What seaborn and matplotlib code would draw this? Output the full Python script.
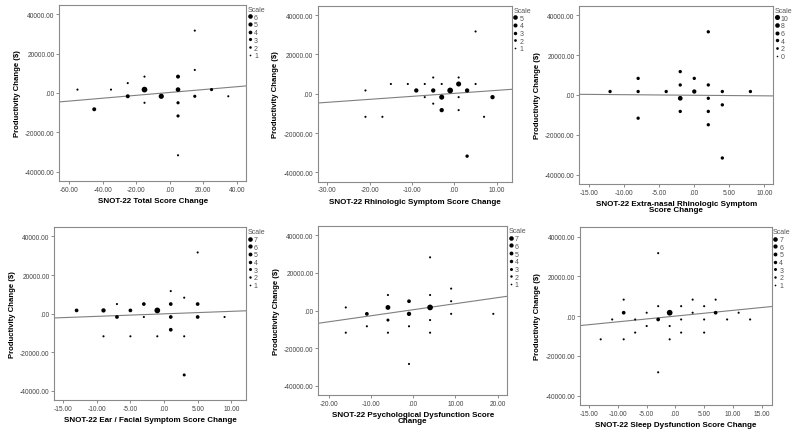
import numpy as np
import pandas as pd
import matplotlib
matplotlib.use("Agg")
import matplotlib.pyplot as plt
from matplotlib.lines import Line2D
from matplotlib.ticker import FuncFormatter
import seaborn as sns

# -----------------------------------
# Data
# -----------------------------------
p1_x = [-55, -45, -35, -25, -25, -15, -15, -15, -5, 5, 5, 5, 5, 5, 15, 15, 15, 25, 35]
p1_y = [1700, -8300, 1700, 5000, -1700, 8300, 1700, -5000, -1700, 8300, 1700, -5000,
        -11700, -31700, 31700, 11700, -1700, 1700, -1700]
p1_n = [1, 3, 1, 1, 3, 1, 6, 1, 5, 3, 4, 2, 2, 1, 1, 1, 2, 2, 1]

p2_x = [-21, -21, -17, -15, -11, -9, -7, -7, -5, -5, -5, -3, -3, -3, -1, 1, 1, 1, 1,
        3, 3, 5, 5, 7, 9]
p2_y = [1700, -11700, -11700, 5000, 5000, 1700, 5000, -1700, 8300, 1700, -5000, 5000,
        -1700, -8300, 1700, 8300, 5000, -1700, -8300, 1700, -31700, 31700, 5000,
        -11700, -1700]
p2_n = [1, 1, 1, 1, 1, 3, 1, 1, 1, 3, 1, 1, 4, 3, 5, 1, 4, 1, 1, 3, 2, 1, 1, 1, 3]

p3_x = [-12, -8, -8, -8, -4, -2, -2, -2, -2, 0, 0, 2, 2, 2, 2, 2, 4, 4, 4, 8]
p3_y = [1700, 8300, 1700, -11700, 1700, 11700, 5000, -1700, -8300, 8300, 1700, 31700,
        5000, -1700, -8300, -15000, 1700, -5000, -31700, 1700]
p3_n = [2, 2, 2, 2, 2, 2, 2, 5, 2, 2, 4, 2, 2, 2, 2, 2, 2, 2, 2, 2]

p4_x = [-13, -9, -9, -7, -7, -5, -5, -3, -3, -1, -1, 1, 1, 1, 1, 3, 3, 3, 5, 5, 5, 9]
p4_y = [1700, 1700, -11700, 5000, -1700, 1700, -11700, 5000, -1700, 1700, -11700,
        11700, 5000, -1700, -8300, 8300, -11700, -31700, 31700, 5000, -1700, -1700]
p4_n = [3, 4, 1, 1, 3, 3, 1, 3, 1, 7, 1, 1, 3, 3, 3, 1, 1, 2, 1, 3, 3, 1]

p5_x = [-16, -16, -11, -11, -6, -6, -6, -6, -1, -1, -1, -1, 4, 4, 4, 4, 4, 9, 9, 9, 19]
p5_y = [1700, -11700, -1700, -8300, 8300, 1700, -5000, -11700, 5000, -1700, -8300,
        -28300, 28300, 8300, 1700, -5000, -11700, 11700, 5000, -1700, -1700]
p5_n = [1, 1, 3, 1, 1, 5, 2, 1, 3, 4, 1, 1, 1, 1, 7, 1, 1, 1, 1, 1, 1]

p6_x = [-13, -11, -9, -9, -9, -7, -7, -5, -5, -3, -3, -3, -3, -1, -1, -1, 1, 1, 1,
        3, 3, 5, 5, 5, 7, 7, 9, 11, 13]
p6_y = [-11700, -1700, 8300, 1700, -11700, -1700, -8300, 1700, -5000, 31700, 5000,
        -1700, -28300, 1700, -5000, -11700, 5000, -1700, -8300, 8300, 1700, 5000,
        -1700, -8300, 8300, 1700, -1700, 1700, -1700]
p6_n = [1, 1, 1, 3, 1, 1, 1, 1, 1, 1, 1, 3, 1, 7, 1, 1, 1, 1, 1, 1, 1, 1, 1, 1, 1,
        3, 1, 1, 1]

# fit lines (intercept, slope)
fit_lines = [(240, 73), (230, 152), (-180, -29), (-80, 130), (500, 320), (0, 288)]

x_titles = [
    "SNOT-22 Total Score Change",
    "SNOT-22 Rhinologic Symptom Score Change",
    "SNOT-22 Extra-nasal Rhinologic Symptom\nScore Change",
    "SNOT-22 Ear / Facial Symptom Score Change",
    "SNOT-22 Psychological Dysfunction Score\nChange",
    "SNOT-22 Sleep Dysfunction Score Change",
]
legend_levels = [
    [6, 5, 4, 3, 2, 1],
    [5, 4, 3, 2, 1],
    [10, 8, 6, 4, 2, 0],
    [7, 6, 5, 4, 3, 2, 1],
    [7, 6, 5, 4, 3, 2, 1],
    [7, 6, 5, 4, 3, 2, 1],
]
x_ticks = [
    np.arange(-60, 41, 20),
    np.arange(-30, 11, 10),
    np.arange(-15, 11, 5),
    np.arange(-15, 11, 5),
    np.arange(-20, 21, 10),
    np.arange(-15, 16, 5),
]
x_lims = [(-65.9, 45.8), (-32.3, 13.6), (-16.4, 11.25),
          (-16.3, 12.2), (-22.5, 22.3), (-16.6, 16.75)]

panels = [(p1_x, p1_y, p1_n), (p2_x, p2_y, p2_n), (p3_x, p3_y, p3_n),
          (p4_x, p4_y, p4_n), (p5_x, p5_y, p5_n), (p6_x, p6_y, p6_n)]

# axes boxes in figure fractions [left, bottom, width, height]
boxes = [
    [0.074, 0.582, 0.234, 0.405],
    [0.397, 0.580, 0.243, 0.405],
    [0.724, 0.575, 0.2425, 0.410],
    [0.068, 0.078, 0.2396, 0.398],
    [0.398, 0.090, 0.236, 0.388],
    [0.725, 0.067, 0.2396, 0.409],
]

sns.set_style("white")
plt.rcParams["font.family"] = ["Liberation Sans", "DejaVu Sans"]

SPINE = "#8a8a8a"
TXT = "#444444"
SIZES = (2.3, 17)


def spss_fmt(v, pos=None):
    s = f"{v:.2f}"
    if s in ("0.00", "-0.00"):
        return ".00"
    return s


fig = plt.figure(figsize=(8, 4.35), dpi=100)

for i, (xs, ys, ns) in enumerate(panels):
    ax = fig.add_axes(boxes[i])
    df = pd.DataFrame({"x": xs, "y": ys, "n": ns})
    levels = legend_levels[i]
    norm = (min(levels), max(levels))
    sizes = (2.0, 21) if i == 2 else SIZES

    sns.scatterplot(data=df, x="x", y="y", size="n", sizes=sizes, size_norm=norm,
                    color="black", linewidth=0, legend=False, ax=ax, zorder=3)

    b0, b1 = fit_lines[i]
    ax.axline((0, b0), slope=b1, color="#7f7f7f", lw=0.8, zorder=2)

    ax.set_xlim(*x_lims[i])
    ax.set_ylim(-44700, 44900)
    ax.set_xticks(x_ticks[i])
    ax.set_yticks([-40000, -20000, 0, 20000, 40000])
    ax.xaxis.set_major_formatter(FuncFormatter(spss_fmt))
    ax.yaxis.set_major_formatter(FuncFormatter(spss_fmt))
    ax.tick_params(axis="both", which="major", direction="out", length=2.2, width=0.7,
                   color=SPINE, labelsize=4.8, labelcolor=TXT, pad=1.2,
                   bottom=True, left=True)
    for sp in ax.spines.values():
        sp.set_color(SPINE)
        sp.set_linewidth(0.8)

    ax.set_xlabel(x_titles[i], fontsize=5.8, fontweight="bold", color="black",
                  labelpad=3, linespacing=0.85)
    ax.set_ylabel("Productivity Change ($)", fontsize=5.6, fontweight="bold",
                  color="black", labelpad=3)

    # size legend
    lo, hi = norm
    handles = []
    for lv in levels:
        area = sizes[0] + (sizes[1] - sizes[0]) * (lv - lo) / (hi - lo)
        handles.append(Line2D([], [], marker="o", ls="", color="black", mec="none",
                              markersize=np.sqrt(area) * 0.8))
    leg = ax.legend(handles, [str(lv) for lv in levels], title="Scale",
                    loc="upper left", bbox_to_anchor=(1.0, 1.0), frameon=False,
                    fontsize=5.0, title_fontsize=5.0, handlelength=0.6,
                    handletextpad=0.3, labelspacing=0.1, borderaxespad=0.1,
                    borderpad=0.1)
    leg._legend_box.align = "left"
    for t in leg.get_texts():
        t.set_color("#555555")
    leg.get_title().set_color("#555555")

fig.savefig("out.png", dpi=100)
